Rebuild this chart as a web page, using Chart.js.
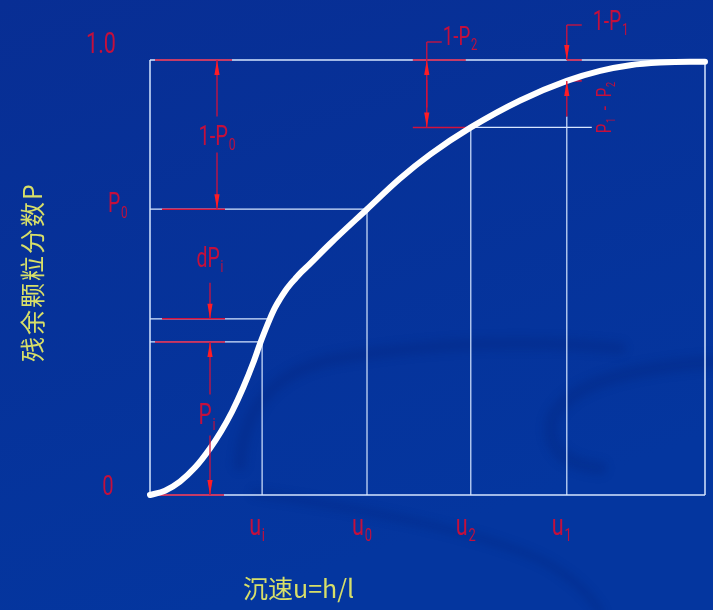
<!DOCTYPE html>
<html>
<head>
<meta charset="utf-8">
<title>残余颗粒分数曲线</title>
<script src="https://cdn.jsdelivr.net/npm/chart.js@4.4.1/dist/chart.umd.min.js"></script>
<style>
  html, body { margin: 0; padding: 0; background: #05339c; }
  canvas { display: block; }
</style>
</head>
<body>
<canvas id="curve" width="713" height="610"></canvas>
<script>
// Residual particle fraction P against settling velocity u (both normalised to 0..1)
const speeds   = [0, 0.027, 0.054, 0.081, 0.108, 0.128, 0.148, 0.168, 0.186, 0.198, 0.207, 0.216, 0.225, 0.234,
                  0.243, 0.252, 0.261, 0.270, 0.283, 0.324, 0.391, 0.450, 0.505, 0.578, 0.667, 0.751, 0.811, 0.865,
                  0.919, 0.973, 1.0];
const residual = [0, 0.010, 0.031, 0.063, 0.107, 0.146, 0.192, 0.247, 0.304, 0.347, 0.377, 0.405, 0.430, 0.450,
                  0.468, 0.483, 0.496, 0.509, 0.525, 0.577, 0.657, 0.727, 0.783, 0.845, 0.907, 0.952, 0.975, 0.988,
                  0.994, 0.996, 0.996];

// Marked velocities u_i, u_0, u_2, u_1 and the fraction P at each
const markNames  = ['i', '0', '2', '1'];
const markSpeeds = [0.202, 0.391, 0.578, 0.751];
const markLevels = [0.352, 0.657, 0.845, 0.952];

// The small step dP_i sitting above P_i
const stepSpeed = 0.216;
const stepLevel = 0.405;

// Left-hand tick labels
const yTickValues = [1.0, markLevels[1], 0];
const yTickMain   = ['1.0', 'P', '0'];
const yTickSubs   = ['', '0', ''];

const yTitle = '残余颗粒分数P';
const xTitle = '沉速u=h/l';

const RED_LINE = '#d2123c';
const RED_HEAD = '#ff1c24';
const RED_TEXT = '#c40f3c';
const GUIDE    = '#d6e6ff';
const YELLOW   = '#d8df68';
const LATIN    = 'Roboto, "Liberation Sans", sans-serif';
const CJK      = '"Noto Sans CJK SC", "Noto Sans CJK JP", sans-serif';

// text with an optional subscript, squeezed horizontally like a drafting font
function label(ctx, main, sub, x, y, size, align) {
  const sx = 0.72;
  ctx.save();
  ctx.font = `${size}px ${LATIN}`;
  const mw = ctx.measureText(main).width;
  ctx.font = `${size * 0.6}px ${LATIN}`;
  const sw = sub ? ctx.measureText(sub).width + 1 : 0;
  const total = (mw + sw) * sx;
  let left = x;
  if (align === 'center') left = x - total / 2;
  if (align === 'right') left = x - total;
  ctx.translate(left, y);
  ctx.scale(sx, 1);
  ctx.fillStyle = RED_TEXT;
  ctx.textAlign = 'left';
  ctx.textBaseline = 'alphabetic';
  ctx.font = `${size}px ${LATIN}`;
  ctx.fillText(main, 0, 0);
  if (sub) {
    ctx.font = `${size * 0.6}px ${LATIN}`;
    ctx.fillText(sub, mw + 1, size * 0.2);
  }
  ctx.restore();
}

function hline(ctx, x0, x1, y, color, w) {
  ctx.save();
  ctx.strokeStyle = color;
  ctx.lineWidth = w;
  ctx.beginPath();
  ctx.moveTo(x0, y);
  ctx.lineTo(x1, y);
  ctx.stroke();
  ctx.restore();
}

function vline(ctx, x, y0, y1, color, w) {
  ctx.save();
  ctx.strokeStyle = color;
  ctx.lineWidth = w;
  ctx.beginPath();
  ctx.moveTo(x, y0);
  ctx.lineTo(x, y1);
  ctx.stroke();
  ctx.restore();
}

// vertical dimension arrow: shaft from y0 to y1, slender head at y1
function arrow(ctx, x, y0, y1) {
  vline(ctx, x, y0, y1, RED_LINE, 1.3);
  const dir = Math.sign(y1 - y0);
  ctx.save();
  ctx.fillStyle = RED_HEAD;
  ctx.beginPath();
  ctx.moveTo(x, y1);
  ctx.lineTo(x - 2.6, y1 - dir * 15);
  ctx.lineTo(x + 2.6, y1 - dir * 15);
  ctx.closePath();
  ctx.fill();
  ctx.restore();
}

// blue slide backdrop with faint swooshes
const backdrop = {
  id: 'backdrop',
  beforeDraw(chart) {
    const ctx = chart.ctx;
    const w = chart.width, h = chart.height;
    ctx.save();
    const g = ctx.createLinearGradient(0, 0, w * 0.3, h);
    g.addColorStop(0, '#082e94');
    g.addColorStop(1, '#04369f');
    ctx.fillStyle = g;
    ctx.fillRect(0, 0, w, h);
    ctx.filter = 'blur(4px)';
    ctx.strokeStyle = 'rgba(0, 22, 100, 0.18)';
    ctx.lineCap = 'round';
    ctx.lineWidth = 12;
    ctx.beginPath();
    ctx.moveTo(240, 465);
    ctx.quadraticCurveTo(245, 380, 330, 360);
    ctx.quadraticCurveTo(470, 335, 620, 348);
    ctx.stroke();
    ctx.lineWidth = 14;
    ctx.beginPath();
    ctx.moveTo(713, 362);
    ctx.quadraticCurveTo(570, 372, 552, 420);
    ctx.quadraticCurveTo(545, 462, 600, 468);
    ctx.stroke();
    ctx.lineWidth = 8;
    ctx.beginPath();
    ctx.moveTo(255, 493);
    ctx.quadraticCurveTo(470, 525, 545, 562);
    ctx.quadraticCurveTo(585, 585, 600, 612);
    ctx.stroke();
    ctx.restore();
  }
};

// frame, guide lines and the red extension lines, drawn under the curve
const guides = {
  id: 'guides',
  beforeDatasetsDraw(chart) {
    const ctx = chart.ctx;
    const X = v => chart.scales.x.getPixelForValue(v);
    const Y = v => chart.scales.y.getPixelForValue(v);
    const L = X(0), R = X(1), T = Y(1), B = Y(0);

    // frame
    hline(ctx, L, R, T, GUIDE, 1.5);
    hline(ctx, L, R, B, GUIDE, 1.5);
    vline(ctx, L, T, B, GUIDE, 1.5);
    vline(ctx, R, T, B, GUIDE, 1.5);

    // verticals from each marked velocity up to the curve (u_1 stops where its dimension starts)
    for (let i = 0; i < markSpeeds.length; i++) {
      const top = i === 3 ? Y(markLevels[2]) - 11 : Y(markLevels[i]);
      vline(ctx, X(markSpeeds[i]), B, top, GUIDE, 1.2);
    }
    // horizontals from the axis to the curve
    hline(ctx, L, X(markSpeeds[1]), Y(markLevels[1]), GUIDE, 1.2);
    hline(ctx, L, X(stepSpeed), Y(stepLevel), GUIDE, 1.2);
    hline(ctx, L, X(markSpeeds[0]), Y(markLevels[0]), GUIDE, 1.2);
    hline(ctx, X(markSpeeds[2]), X(markSpeeds[3]) + 25, Y(markLevels[2]), GUIDE, 1.2);

    // red extension lines for the dimensions
    hline(ctx, L + 5, L + 82, T, RED_LINE, 1.5);
    hline(ctx, L + 12, L + 75, Y(markLevels[1]), RED_LINE, 1.5);
    hline(ctx, L + 12, L + 75, Y(stepLevel), RED_LINE, 1.5);
    hline(ctx, L + 5, L + 75, Y(markLevels[0]), RED_LINE, 1.5);
    hline(ctx, L + 5, L + 74, B, RED_LINE, 1.5);

    const u2 = X(markSpeeds[2]), u1 = X(markSpeeds[3]);
    hline(ctx, u2 - 58, u2 - 5, T, RED_LINE, 1.5);
    hline(ctx, u2 - 58, u2 - 2, Y(markLevels[2]), RED_LINE, 1.5);
    hline(ctx, u1, u1 + 15, T, RED_LINE, 1.5);
    hline(ctx, u1 + 6, u1 + 15, Y(markLevels[3]), RED_LINE, 1.5);
  }
};

// dimension arrows, labels and axis titles, drawn over the curve
const notes = {
  id: 'notes',
  afterDatasetsDraw(chart) {
    const ctx = chart.ctx;
    const X = v => chart.scales.x.getPixelForValue(v);
    const Y = v => chart.scales.y.getPixelForValue(v);
    const L = X(0), T = Y(1), B = Y(0);

    // 1 - P0
    const dx0 = L + 67;
    const mid0 = (T + Y(markLevels[1])) / 2;
    arrow(ctx, dx0, mid0 - 18, T);
    arrow(ctx, dx0, mid0 + 18, Y(markLevels[1]));
    label(ctx, '1-P', '0', dx0, mid0 + 10, 28, 'center');

    // dP_i
    const dx1 = L + 60;
    arrow(ctx, dx1, Y(stepLevel) - 36, Y(stepLevel));
    label(ctx, 'dP', 'i', dx1, Y(stepLevel) - 52, 27, 'center');

    // P_i
    const midI = (Y(markLevels[0]) + B) / 2;
    arrow(ctx, dx1, midI - 24, Y(markLevels[0]));
    arrow(ctx, dx1, midI + 17, B);
    label(ctx, 'P', 'i', dx1 - 3, midI + 6, 29, 'center');

    // 1 - P2 with leader
    const ax2 = X(markSpeeds[2]) - 44;
    vline(ctx, ax2, T - 18, T, RED_LINE, 1.3);
    hline(ctx, ax2, ax2 + 15, T - 18, RED_LINE, 1.3);
    arrow(ctx, ax2, Y(markLevels[2]) - 20, T);
    arrow(ctx, ax2, T + 20, Y(markLevels[2]));
    label(ctx, '1-P', '2', ax2 + 16, T - 15, 26, 'left');

    // 1 - P1 with leader
    const ax1 = X(markSpeeds[3]);
    hline(ctx, ax1, ax1 + 15, T - 35, RED_LINE, 1.3);
    arrow(ctx, ax1, T - 35, T);
    label(ctx, '1-P', '1', ax1 + 26, T - 30, 27, 'left');

    // P1 - P2, written upwards
    arrow(ctx, ax1, Y(markLevels[2]) - 11, Y(markLevels[3]));
    ctx.save();
    ctx.translate(ax1 + 44, (Y(markLevels[2]) + Y(markLevels[3])) / 2 + 2);
    ctx.rotate(-Math.PI / 2);
    label(ctx, 'P', '1', -27, 0, 21, 'left');
    label(ctx, '-', '', -4, 0, 21, 'left');
    label(ctx, 'P', '2', 9, 0, 21, 'left');
    ctx.restore();

    // y tick labels
    label(ctx, yTickMain[0], yTickSubs[0], L - 49, Y(yTickValues[0]) - 7, 30, 'center');
    label(ctx, yTickMain[1], yTickSubs[1], L - 42, Y(yTickValues[1]) + 3, 27, 'left');
    label(ctx, yTickMain[2], yTickSubs[2], L - 42, Y(yTickValues[2]), 28, 'center');

    // x tick labels
    for (let i = 0; i < markSpeeds.length; i++) {
      label(ctx, 'u', markNames[i], X(markSpeeds[i]) - 5, B + 40, 30, 'center');
    }

    // axis titles
    ctx.save();
    ctx.fillStyle = YELLOW;
    ctx.font = `25px ${CJK}`;
    ctx.textAlign = 'left';
    ctx.textBaseline = 'alphabetic';
    ctx.fillText(xTitle, 243, B + 103);
    ctx.translate(32, 272);
    ctx.rotate(-Math.PI / 2);
    ctx.font = `25px ${CJK}`;
    ctx.textAlign = 'center';
    ctx.textBaseline = 'middle';
    ctx.letterSpacing = '2px';
    ctx.fillText(yTitle, 0, 0);
    ctx.restore();
  }
};

new Chart(document.getElementById('curve'), {
  type: 'line',
  data: {
    datasets: [{
      data: speeds.map((s, i) => ({ x: s, y: residual[i] })),
      borderColor: '#ffffff',
      borderWidth: 6,
      borderCapStyle: 'round',
      borderJoinStyle: 'round',
      pointRadius: 0,
      fill: false,
      cubicInterpolationMode: 'monotone',
      clip: false
    }]
  },
  options: {
    responsive: false,
    animation: false,
    events: [],
    layout: { padding: { left: 150, top: 60, right: 8, bottom: 115 } },
    scales: {
      x: { type: 'linear', min: 0, max: 1, display: false },
      y: { type: 'linear', min: 0, max: 1, display: false }
    },
    plugins: {
      legend: { display: false },
      tooltip: { enabled: false }
    }
  },
  plugins: [backdrop, guides, notes]
});
</script>
</body>
</html>
